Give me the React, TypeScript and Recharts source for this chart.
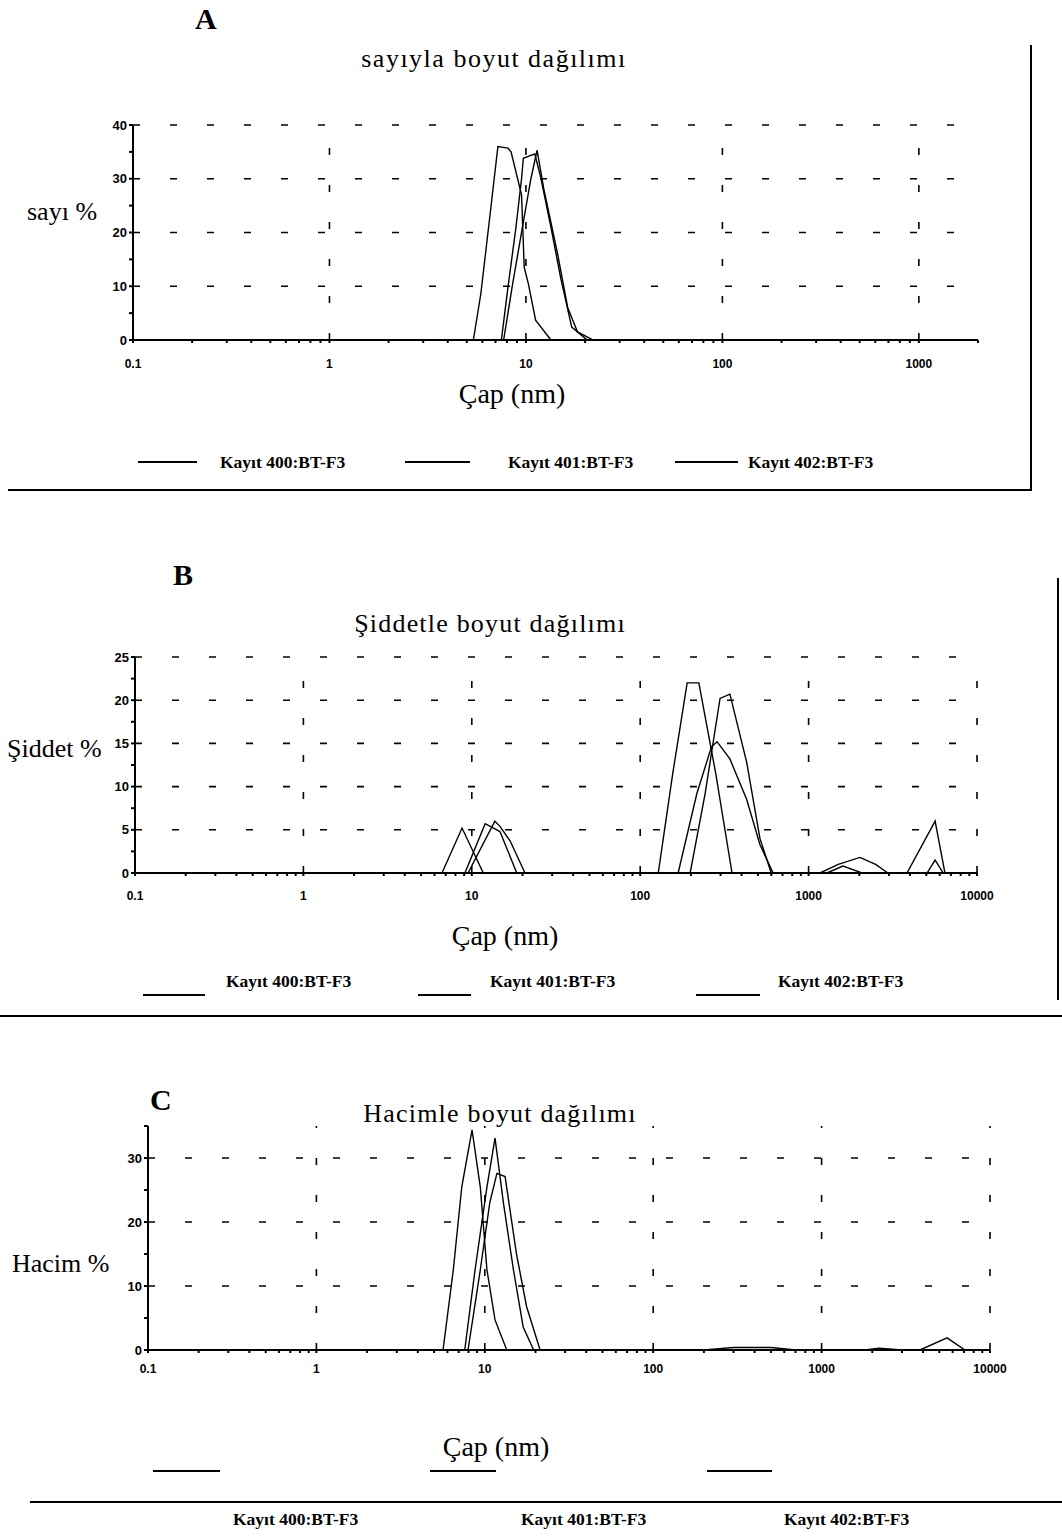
import React from 'react'
import { LineChart, Line, XAxis, YAxis, ReferenceLine } from 'recharts'

// kayıt adları
const records = ['Kayıt 400:BT-F3', 'Kayıt 401:BT-F3', 'Kayıt 402:BT-F3']

// A: sayıyla boyut dağılımı
const numSize400 = [5.4, 5.9, 6.6, 7.2, 8.1, 8.4, 9.5, 9.8, 10.3, 11.2, 13.4]
const numPct400 = [0, 8.7, 24, 36, 35.7, 35, 27, 13.5, 10.4, 3.7, 0]
const numSize401 = [7.5, 8.1, 8.9, 9.5, 9.7, 10.5, 11.1, 11.9, 13.4, 15.0, 17.1, 20.5]
const numPct401 = [0, 9.8, 21, 30, 33.8, 34.3, 34.6, 30.2, 21, 11.7, 2.4, 0]
const numSize402 = [7.7, 8.5, 9.6, 10.6, 11.4, 12.3, 14.5, 16.3, 18.3, 22]
const numPct402 = [0, 9.8, 21, 30, 35.3, 28.3, 16, 6.1, 1.5, 0]

// B: şiddetle boyut dağılımı
const intSize400 = [6.65, 8.75, 11.7, 128, 156, 190, 223, 281, 351, 1285, 1600, 2076, 5050, 5640, 6300]
const intPct400 = [0, 5.2, 0, 0, 11.5, 22, 22, 11.5, 0, 0, 0.8, 0, 0, 1.5, 0]
const intSize401 = [9.1, 12.0, 14.7, 18.5, 198, 243, 298, 341, 429, 514, 600]
const intPct401 = [0, 5.7, 4.8, 0, 0, 9.2, 20.2, 20.7, 12.8, 4, 0]
const intSize402 = [9.5, 13.7, 14.7, 16.9, 20.7, 168, 217, 265, 286, 341, 429, 514, 615, 1169, 1500, 2018, 2500, 2960, 3840, 5640, 6450]
const intPct402 = [0, 6.0, 5.4, 3.7, 0, 0, 9.2, 14.6, 15.2, 13.2, 8.5, 3.3, 0, 0, 1.0, 1.8, 1.0, 0, 0, 6.0, 0]

// C: hacimle boyut dağılımı
const volSize400 = [5.65, 6.5, 7.3, 8.4, 9.4, 10.3, 11.5, 13.5, 200, 300, 500, 700, 1800, 2200, 3000]
const volPct400 = [0, 12.5, 25.5, 34.4, 25.5, 12.5, 4.7, 0, 0, 0.4, 0.4, 0, 0, 0.3, 0]
const volSize401 = [7.6, 8.75, 10.3, 11.5, 12.9, 14.8, 16.9, 19.5]
const volPct401 = [0, 12.5, 25.5, 33.1, 23, 12.5, 3.6, 0]
const volSize402 = [7.95, 9.4, 10.7, 11.8, 13.2, 15.4, 17.7, 21.3, 3840, 5560, 7100]
const volPct402 = [0, 12.5, 23, 27.6, 27.1, 15.1, 6.8, 0, 0, 1.9, 0]

// eksen etiketleri
const decadesA = [0.1, 1, 10, 100, 1000]
const decadesBC = [0.1, 1, 10, 100, 1000, 10000]
const yTicksA = [0, 10, 20, 30, 40]
const yTicksB = [0, 5, 10, 15, 20, 25]
const yTicksC = [0, 10, 20, 30]

const minorOf = (decades: number[], max: number) =>
  decades.flatMap((d) => [1, 2, 3, 4, 5, 6, 7, 8, 9].map((m) => +(d * m).toPrecision(3))).filter((v) => v <= max)

const toRows = (xs: number[], ys: number[]) => xs.map((x, i) => ({ x, y: ys[i] }))

type Series = { name: string; rows: { x: number; y: number }[] }

const serif = '"Liberation Serif", "Times New Roman", serif'
const sans = '"Liberation Sans", Arial, sans-serif'

function fmtX(v: number) {
  const l = Math.log10(v)
  if (Math.abs(l - Math.round(l)) > 1e-6) return ''
  return v < 1 ? '0.1' : String(Math.round(v))
}

interface PanelProps {
  plot: { left: number; top: number; right: number; bottom: number }
  xDomain: [number, number]
  decades: number[]
  yDomain: [number, number]
  yLabels: number[]
  yMinor: number
  gridX: number[]
  gridY: number[]
  series: Series[]
  xTickGap: number
}

function Panel({ plot, xDomain, decades, yDomain, yLabels, yMinor, gridX, gridY, series, xTickGap }: PanelProps) {
  const yAxisW = 40
  const topPad = 20
  const xAxisH = 40
  const h = plot.bottom - plot.top + topPad + xAxisH
  const yTicks: number[] = []
  for (let v = yDomain[0]; v <= yDomain[1] + 1e-9; v += yMinor) yTicks.push(+v.toFixed(2))
  const xTicks = minorOf(decades, xDomain[1])
  const dash = { stroke: '#000', strokeWidth: 1.6, strokeDasharray: '7 30' }
  return (
    <div style={{ position: 'absolute', left: 0, top: plot.top - topPad }}>
      <LineChart
        width={1062}
        height={h}
        margin={{ top: topPad, left: plot.left - yAxisW, right: 1062 - plot.right, bottom: 0 }}
      >
        <XAxis
          dataKey="x"
          type="number"
          scale="log"
          domain={xDomain}
          ticks={xTicks}
          interval={0}
          allowDataOverflow
          height={xAxisH}
          tickSize={3}
          tickMargin={xTickGap}
          axisLine={{ stroke: '#000', strokeWidth: 2 }}
          tickLine={{ stroke: '#000', strokeWidth: 2 }}
          tickFormatter={fmtX}
          tick={{ fill: '#000', fontSize: 12, fontFamily: sans, fontWeight: 700 }}
        />
        <YAxis
          type="number"
          domain={yDomain}
          ticks={yTicks}
          interval={0}
          allowDataOverflow
          width={yAxisW}
          tickSize={4}
          tickMargin={2}
          axisLine={{ stroke: '#000', strokeWidth: 2 }}
          tickLine={{ stroke: '#000', strokeWidth: 2 }}
          tickFormatter={(v: number) => (yLabels.includes(v) ? String(v) : '')}
          tick={{ fill: '#000', fontSize: 13, fontFamily: sans, fontWeight: 700 }}
        />
        {gridY.map((v) => (
          <ReferenceLine key={'gy' + v} y={v} {...dash} />
        ))}
        {gridX.map((v) => (
          <ReferenceLine key={'gx' + v} x={v} {...dash} />
        ))}
        {series.map((s) => (
          <Line
            key={s.name}
            data={s.rows}
            dataKey="y"
            name={s.name}
            type="linear"
            stroke="#000"
            strokeWidth={1.4}
            dot={false}
            isAnimationActive={false}
          />
        ))}
      </LineChart>
    </div>
  )
}

function Txt({ x, y, size, bold, children, center, spacing }: { x: number; y: number; size: number; bold?: boolean; children: React.ReactNode; center?: boolean; spacing?: number }) {
  return (
    <div
      style={{
        position: 'absolute',
        left: x,
        top: y,
        fontFamily: serif,
        fontSize: size,
        fontWeight: bold ? 700 : 400,
        letterSpacing: spacing ?? 0,
        whiteSpace: 'nowrap',
        lineHeight: 1,
        transform: center ? 'translateX(-50%)' : undefined,
      }}
    >
      {children}
    </div>
  )
}

function Rule({ x, y, w, h }: { x: number; y: number; w: number; h: number }) {
  return <div style={{ position: 'absolute', left: x, top: y, width: w, height: h, background: '#000' }} />
}

function LegendRow({ lines, texts, lineY, textY }: { lines: [number, number][]; texts: number[]; lineY: number; textY: number }) {
  return (
    <>
      {records.map((r, i) => (
        <React.Fragment key={r}>
          <Rule x={lines[i][0]} y={lineY} w={lines[i][1] - lines[i][0]} h={1.5} />
          <Txt x={texts[i]} y={textY} size={17.5} bold>
            {r}
          </Txt>
        </React.Fragment>
      ))}
    </>
  )
}

export default function App() {
  const seriesA: Series[] = [
    { name: records[0], rows: toRows(numSize400, numPct400) },
    { name: records[1], rows: toRows(numSize401, numPct401) },
    { name: records[2], rows: toRows(numSize402, numPct402) },
  ]
  const seriesB: Series[] = [
    { name: records[0], rows: toRows(intSize400, intPct400) },
    { name: records[1], rows: toRows(intSize401, intPct401) },
    { name: records[2], rows: toRows(intSize402, intPct402) },
  ]
  const seriesC: Series[] = [
    { name: records[0], rows: toRows(volSize400, volPct400) },
    { name: records[1], rows: toRows(volSize401, volPct401) },
    { name: records[2], rows: toRows(volSize402, volPct402) },
  ]

  return (
    <div style={{ position: 'absolute', left: 0, top: 0, width: 1062, height: 1536, background: '#fff', color: '#000' }}>
      {/* A */}
      <Txt x={195} y={4} size={30} bold>A</Txt>
      <Txt x={494} y={46} size={26} spacing={1.5} center>sayıyla boyut dağılımı</Txt>
      <Txt x={27} y={199} size={26}>sayı %</Txt>
      <Panel
        plot={{ left: 133, top: 125, right: 978, bottom: 340 }}
        xDomain={[0.1, 2000]}
        decades={decadesA}
        yDomain={[0, 40]}
        yLabels={yTicksA}
        yMinor={5}
        gridX={[1, 10, 100, 1000]}
        gridY={[10, 20, 30, 40]}
        series={seriesA}
        xTickGap={16}
      />
      <Txt x={512} y={380} size={28} center>Çap (nm)</Txt>
      <LegendRow lines={[[138, 197], [405, 470], [675, 738]]} texts={[220, 508, 748]} lineY={461} textY={454} />
      <Rule x={1030} y={45} w={2} h={446} />
      <Rule x={8} y={489} w={1024} h={2} />

      {/* B */}
      <Txt x={173} y={560} size={30} bold>B</Txt>
      <Txt x={490} y={611} size={26} spacing={1.2} center>Şiddetle boyut dağılımı</Txt>
      <Txt x={7} y={736} size={26}>Şiddet %</Txt>
      <Panel
        plot={{ left: 135, top: 657, right: 977, bottom: 873 }}
        xDomain={[0.1, 10000]}
        decades={decadesBC}
        yDomain={[0, 25]}
        yLabels={yTicksB}
        yMinor={2.5}
        gridX={[1, 10, 100, 1000, 10000]}
        gridY={[5, 10, 15, 20, 25]}
        series={seriesB}
        xTickGap={15}
      />
      <Txt x={505} y={922} size={28} center>Çap (nm)</Txt>
      <LegendRow lines={[[143, 205], [418, 471], [696, 760]]} texts={[226, 490, 778]} lineY={994} textY={973} />
      <Rule x={1057} y={578} w={2} h={422} />
      <Rule x={0} y={1015} w={1062} h={2} />

      {/* C */}
      <Txt x={150} y={1085} size={30} bold>C</Txt>
      <Txt x={500} y={1101} size={26} spacing={1.2} center>Hacimle boyut dağılımı</Txt>
      <Txt x={12} y={1251} size={26}>Hacim %</Txt>
      <Panel
        plot={{ left: 148, top: 1126, right: 990, bottom: 1350 }}
        xDomain={[0.1, 10000]}
        decades={decadesBC}
        yDomain={[0, 35]}
        yLabels={yTicksC}
        yMinor={5}
        gridX={[1, 10, 100, 1000, 10000]}
        gridY={[10, 20, 30]}
        series={seriesC}
        xTickGap={11}
      />
      <Txt x={496} y={1433} size={28} center>Çap (nm)</Txt>
      <LegendRow lines={[[153, 220], [430, 496], [707, 772]]} texts={[233, 521, 784]} lineY={1470} textY={1511} />
      <Rule x={30} y={1501} w={1032} h={2} />
    </div>
  )
}
